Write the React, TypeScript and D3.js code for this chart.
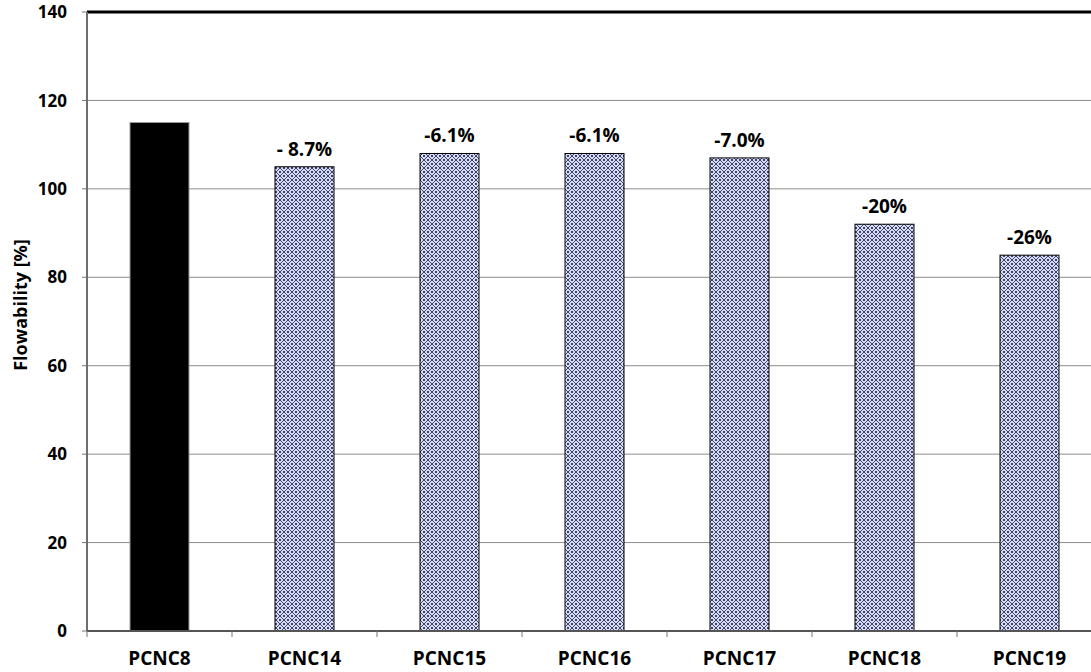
import React from "react";
import * as d3 from "d3";

const categories = ["PCNC8", "PCNC14", "PCNC15", "PCNC16", "PCNC17", "PCNC18", "PCNC19"];
const values = [115, 105, 108, 108, 107, 92, 85];
const changeLabels = ["", "- 8.7%", "-6.1%", "-6.1%", "-7.0%", "-20%", "-26%"];
const yTicks = [0, 20, 40, 60, 80, 100, 120, 140];

const W = 1091, H = 672;
const left = 87, top = 12, bottom = 631;
const bandW = 145;
const font = "'Open Sans', sans-serif";

export default function App() {
  const x = d3.scaleBand<string>().domain(categories).range([left, left + bandW * categories.length]).paddingInner(0).paddingOuter(0);
  const y = d3.scaleLinear().domain([0, 140]).range([bottom, top]);
  const barW = 59;
  return (
    <svg width={W} height={H} style={{ position: "absolute", left: 0, top: 0, background: "#fff" }}>
      <defs>
        <pattern id="weave" width="8" height="8" patternUnits="userSpaceOnUse">
          <rect width="8" height="8" fill="#d9dcec" />
          <path d="M0,0 L8,8 M8,0 L0,8" stroke="#3b4274" strokeWidth="1" />
          <rect x="3" y="0" width="2" height="1" fill="#3b4274" />
          <rect x="0" y="3" width="1" height="2" fill="#3b4274" />
          <rect x="7" y="3" width="1" height="2" fill="#3b4274" />
          <rect x="3" y="7" width="2" height="1" fill="#3b4274" />
        </pattern>
      </defs>
      {yTicks.slice(1, -1).map((t) => (
        <line key={t} x1={left} x2={W} y1={y(t)} y2={y(t)} stroke="#8c8c8c" strokeWidth={1} />
      ))}
      <line x1={left} x2={W} y1={y(140)} y2={y(140)} stroke="#000" strokeWidth={3} />
      {yTicks.map((t) => (
        <g key={t}>
          <line x1={left - 5} x2={left} y1={y(t)} y2={y(t)} stroke="#777" />
          <text x={left - 20} y={y(t)} dy="0.36em" textAnchor="end" fontFamily={font} fontWeight="bold" fontSize={17} fill="#000">{t}</text>
        </g>
      ))}
      {categories.map((c, i) => {
        const cx = (x(c) as number) + bandW / 2;
        const yt = y(values[i]);
        return (
          <g key={c}>
            <rect x={cx - barW / 2} y={yt} width={barW} height={bottom - yt}
              fill={i === 0 ? "#000" : "url(#weave)"} stroke={i === 0 ? "#999" : "#000"} strokeWidth={1} />
            {changeLabels[i] && (
              <text x={cx} y={yt - 11} textAnchor="middle" fontFamily={font} fontWeight="bold" fontSize={19} fill="#000">{changeLabels[i]}</text>
            )}
            <text x={cx} y={665} textAnchor="middle" fontFamily={font} fontWeight="bold" fontSize={19} fill="#000">{c}</text>
          </g>
        );
      })}
      <line x1={left} x2={left} y1={top} y2={bottom} stroke="#6e6e6e" strokeWidth={2} />
      <line x1={left} x2={W} y1={bottom} y2={bottom} stroke="#555" strokeWidth={2} />
      {categories.map((c) => (
        <line key={"t" + c} x1={(x(c) as number)} x2={(x(c) as number)} y1={bottom} y2={bottom + 6} stroke="#777" />
      ))}
      <text transform={`translate(27,305) rotate(-90)`} textAnchor="middle" fontFamily={font} fontWeight="bold" fontSize={18} fill="#000">Flowability [%]</text>
    </svg>
  );
}
